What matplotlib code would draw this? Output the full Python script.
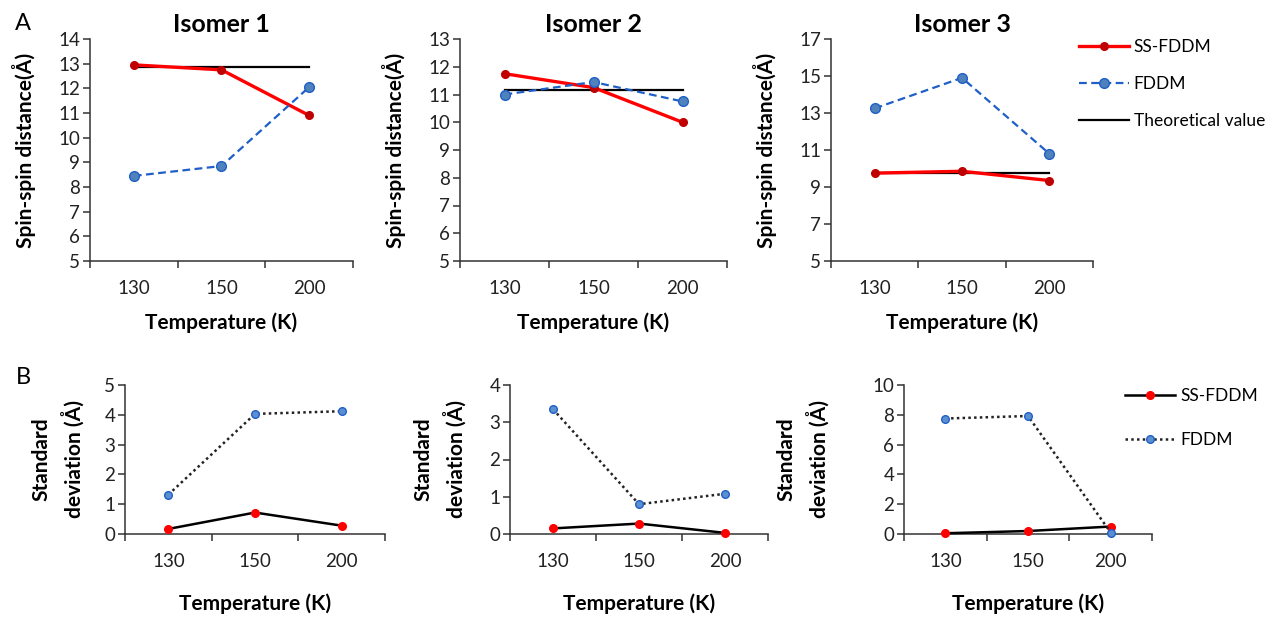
import numpy as np
import matplotlib
matplotlib.use("Agg")
import matplotlib.pyplot as plt

plt.rcParams['font.family'] = ['Lato', 'DejaVu Sans']

# categorie e dati
temps = ['130', '150', '200']
isomers = ['Isomer 1', 'Isomer 2', 'Isomer 3']

ss_dist = [[12.95, 12.75, 10.9],
           [11.75, 11.25, 10.0],
           [9.75, 9.85, 9.35]]
fddm_dist = [[8.45, 8.85, 12.05],
             [11.0, 11.45, 10.75],
             [13.25, 14.9, 10.8]]
theo_dist = [12.85, 11.15, 9.75]

ss_std = [[0.17, 0.72, 0.28],
          [0.15, 0.28, 0.03],
          [0.05, 0.2, 0.5]]
fddm_std = [[1.32, 4.03, 4.12],
            [3.35, 0.8, 1.08],
            [7.75, 7.92, 0.1]]

top_ylim = [(5, 14, 1), (5, 13, 1), (5, 17, 2)]
bot_ylim = [(0, 5, 1), (0, 4, 1), (0, 10, 2)]

W, H = 1271, 618
fig = plt.figure(figsize=(W / 100, H / 100), dpi=100)

# posizioni assi in pixel: (sinistra, alto, larghezza, altezza)
top_boxes = [(90, 39, 263, 222), (460, 39, 267, 222), (831, 39, 262, 222)]
bot_boxes = [(125, 385, 260, 149), (510, 385, 258, 149), (904, 385, 248, 149)]
bot_ylab_off = [40, 43, 74]

spine_col = '#333333'
x = np.arange(len(temps))


def stile_assi(ax, ymin, ymax, step):
    for s in ['top', 'right']:
        ax.spines[s].set_visible(False)
    for s in ['left', 'bottom']:
        ax.spines[s].set_color(spine_col)
        ax.spines[s].set_linewidth(1.1)
    ax.set_xlim(-0.5, 2.5)
    ax.set_ylim(ymin, ymax)
    ax.set_yticks(np.arange(ymin, ymax + 0.01, step))
    ax.set_xticks([-0.5, 0.5, 1.5, 2.5])
    ax.set_xticklabels([])
    ax.set_xticks(x, minor=True)
    ax.set_xticklabels(temps, minor=True)
    ax.tick_params(axis='x', which='major', direction='out', length=5,
                   width=1.1, color=spine_col)
    ax.tick_params(axis='x', which='minor', length=0, pad=14, labelsize=13.5,
                   labelcolor='#222222')
    ax.tick_params(axis='y', direction='out', length=5, width=1.1,
                   color=spine_col, pad=2, labelsize=13.5, labelcolor='#222222')


def add_ax(box):
    l, t, w, h = box
    return fig.add_axes([l / W, 1 - (t + h) / H, w / W, h / H])


top_axes = []
for i in range(3):
    ax = add_ax(top_boxes[i])
    ymin, ymax, step = top_ylim[i]
    stile_assi(ax, ymin, ymax, step)
    ax.plot(x, ss_dist[i], color='#ff0000', lw=2.4, marker='o', ms=5.5,
            mfc='#c00000', mec='#c00000', label='SS-FDDM', zorder=3)
    ax.plot(x, fddm_dist[i], color='#1f5fc8', lw=1.6, ls=(0, (3.5, 2)),
            marker='o', ms=7, mfc='#4f81bd', mec='#1f5fc8', mew=1,
            label='FDDM', zorder=3)
    ax.plot(x, [theo_dist[i]] * len(temps), color='black', lw=1.6,
            label='Theoretical value', zorder=2)
    ax.set_title(isomers[i], fontsize=18, fontweight='bold', pad=5)
    ax.set_xlabel('Temperature (K)', fontsize=15, fontweight='bold')
    ax.xaxis.set_label_coords(0.5, -51 / 222)
    ax.set_ylabel('Spin-spin distance(Å)', fontsize=15, fontweight='bold')
    ax.yaxis.set_label_coords(-54 / top_boxes[i][2], 0.5)
    top_axes.append(ax)

bot_axes = []
for i in range(3):
    ax = add_ax(bot_boxes[i])
    ymin, ymax, step = bot_ylim[i]
    stile_assi(ax, ymin, ymax, step)
    ax.plot(x, ss_std[i], color='black', lw=1.8, marker='o', ms=5.5,
            mfc='#ff0000', mec='#ff0000', label='SS-FDDM', zorder=3,
            clip_on=False)
    ax.plot(x, fddm_std[i], color='#222222', lw=1.8, ls=(0, (1, 1.3)),
            marker='o', ms=5.5, mfc='#5b8fd0', mec='#1f5fc8', mew=1,
            label='FDDM', zorder=3, clip_on=False)
    ax.set_xlabel('Temperature (K)', fontsize=15, fontweight='bold')
    ax.xaxis.set_label_coords(0.5, -59 / 149)
    ax.set_ylabel('Standard\ndeviation (Å)', fontsize=15, fontweight='bold',
                  linespacing=1.55)
    ax.yaxis.set_label_coords(-bot_ylab_off[i] / bot_boxes[i][2], 0.5)
    bot_axes.append(ax)

# legende
h, lab = top_axes[2].get_legend_handles_labels()
fig.legend(h, lab, loc='upper left', bbox_to_anchor=(1072 / W, 1 - 32 / H),
           frameon=False, fontsize=12.5, handlelength=2.9, handletextpad=0.25,
           labelspacing=1.2, borderaxespad=0)
h, lab = bot_axes[2].get_legend_handles_labels()
fig.legend(h, lab, loc='upper left', bbox_to_anchor=(1118 / W, 1 - 381 / H),
           frameon=False, fontsize=12.5, handlelength=2.9, handletextpad=0.3,
           labelspacing=1.6, borderaxespad=0)

fig.text(23 / W, 1 - 24 / H, 'A', fontsize=17, ha='center', va='center')
fig.text(23 / W, 1 - 377 / H, 'B', fontsize=17, ha='center', va='center')

plt.savefig('out.png', dpi=100)
